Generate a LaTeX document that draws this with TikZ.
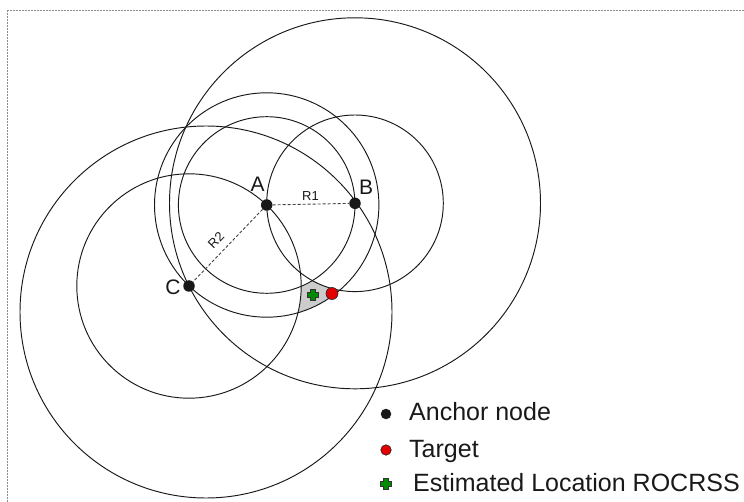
\documentclass[tikz,border=0pt]{standalone}
\usepackage{fontspec}
\setmainfont{Liberation Sans}
\begin{document}
\begin{tikzpicture}[x=1pt,y=-1pt,
  ring/.style={draw=black!90, line width=0.95pt},
  radiusline/.style={draw=black!75, line width=0.9pt, dash pattern=on 3pt off 2pt},
  anchordot/.style={circle, fill=black!90, inner sep=0pt, minimum size=11.5pt},
  targetdot/.style={circle, fill=red!90!black, draw=black!85, line width=0.6pt, inner sep=0pt, minimum size=12pt},
  ptlabel/.style={font=\fontsize{21}{23}\selectfont, text=black!90, inner sep=0pt},
  rlabel/.style={font=\fontsize{13}{15}\selectfont, text=black!90, inner sep=0pt},
  legtext/.style={font=\fontsize{25}{28}\selectfont, text=black!90, inner sep=0pt, anchor=base west},
  estcross/.pic={
    \filldraw[fill=green!55!black, draw=black!80, line width=0.6pt]
      (-2.5,-5.5) -- (2.5,-5.5) -- (2.5,-2.5) -- (5.5,-2.5) -- (5.5,2.5) -- (2.5,2.5)
      -- (2.5,5.5) -- (-2.5,5.5) -- (-2.5,2.5) -- (-5.5,2.5) -- (-5.5,-2.5) -- (-2.5,-2.5) -- cycle;
  }]
\useasboundingbox (0,0) rectangle (744,502);
\clip (0,0) rectangle (744,502);

% dashed outer frame
\draw[black!45, line width=0.9pt, dash pattern=on 2pt off 1pt] (7.5,10.5) rectangle (760,520);

% anchor positions
\coordinate (pA) at (266.7,205);
\coordinate (pB) at (355,203.3);
\coordinate (pC) at (189,286);
\coordinate (pW) at (206,312);

% feasible region of the estimate
\begin{scope}
  \clip (290,272) rectangle (345,325);
  \clip (pA) circle[radius=112.2pt];
  \fill[black!20] (290,272) rectangle (345,325);
  \fill[white] (pA) circle[radius=88.3pt];
  \fill[white] (pB) circle[radius=88.3pt];
  \fill[white] (pC) circle[radius=112.2pt];
\end{scope}

% range circles
\draw[ring] (pA) circle[radius=88.3pt];
\draw[ring] (pB) circle[radius=88.3pt];
\draw[ring] (pA) circle[radius=112.2pt];
\draw[ring] (pC) circle[radius=112.2pt];
\draw[ring] (pB) circle[radius=185.5pt];
\draw[ring] (pW) circle[radius=186pt];

% anchor nodes
\node[anchordot] (A) at (pA) {};
\node[anchordot] (B) at (pB) {};
\node[anchordot] (C) at (pC) {};

% radii
\draw[radiusline] (A) -- (B);
\draw[radiusline] (A) -- (C);

\node[ptlabel] (labA) at (257.5,184) {A};
\node[ptlabel] (labB) at (366,187) {B};
\node[ptlabel] (labC) at (173,287.5) {C};
\node[rlabel] (labR1) at (310.5,196) {R1};
\node[rlabel, rotate=46] (labR2) at (216,240.5) {R2};

% target and estimate
\pic at (313,295) {estcross};
\node[targetdot] (T) at (332,293.5) {};

% legend
\node[anchordot, minimum size=10.5pt] (legA) at (386,414) {};
\node[legtext] (legAtxt) at (409,420) {Anchor node};
\node[targetdot, minimum size=10.5pt] (legT) at (386,450) {};
\node[legtext] (legTtxt) at (409,457) {Target};
\pic at (386,484) {estcross};
\node[legtext] (legEtxt) at (413,491) {Estimated Location ROCRSS};
\end{tikzpicture}
\end{document}
